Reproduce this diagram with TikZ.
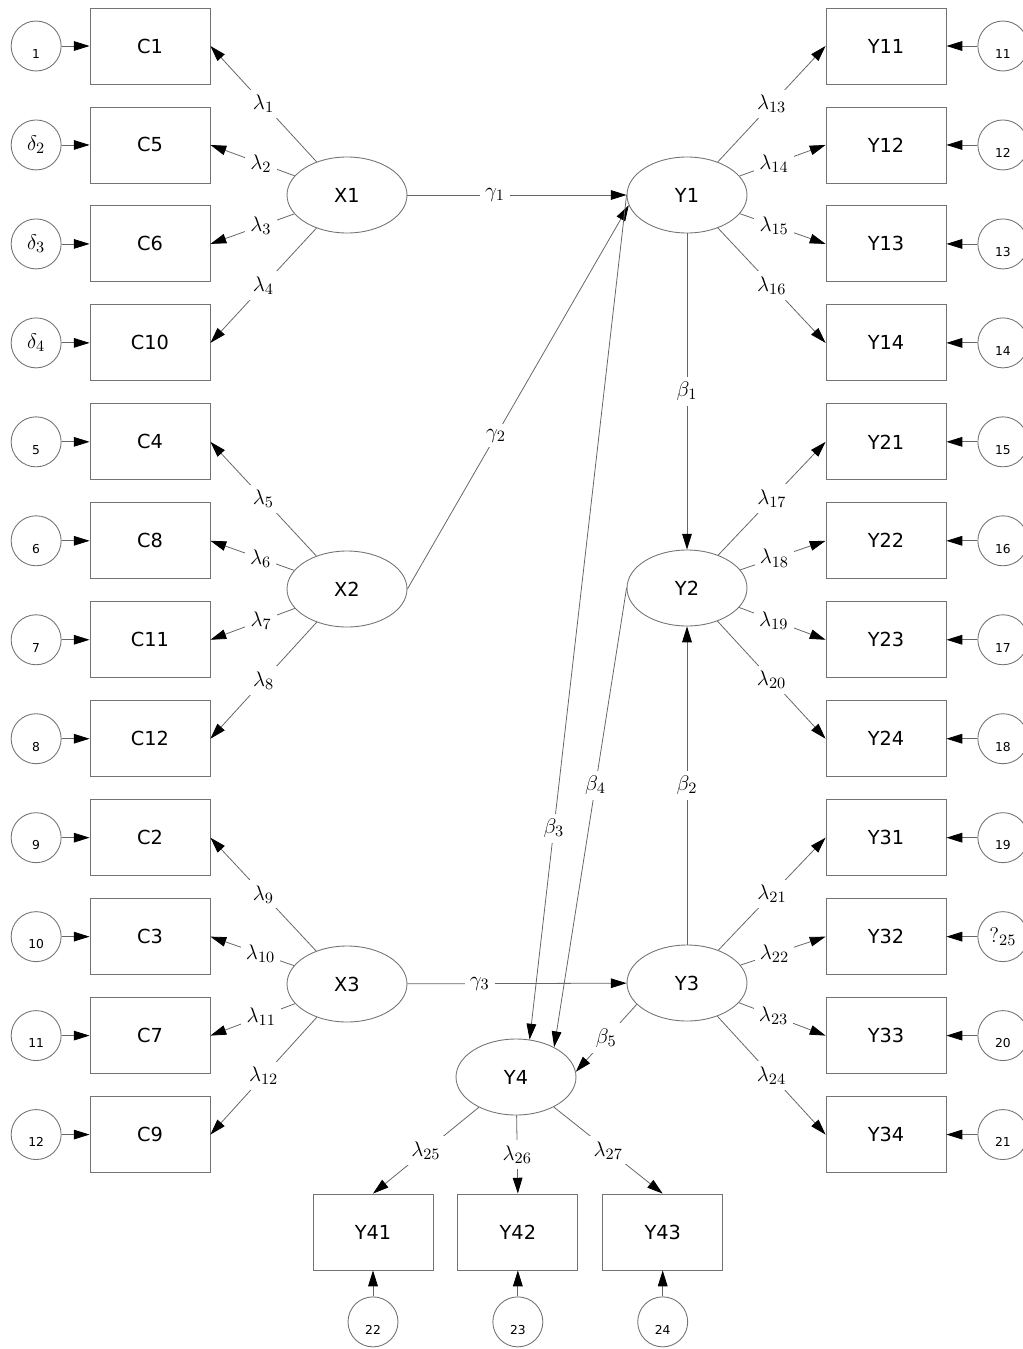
\documentclass[tikz,border=0pt]{standalone}
\usepackage{fontspec}
\setsansfont{DejaVu Sans}
\usetikzlibrary{shapes.geometric, arrows.meta, positioning}
\tikzset{
  obs/.style={rectangle, draw=black!55, line width=0.5pt,
              minimum width=2.4cm, minimum height=1.52cm, inner sep=0pt,
              font=\sffamily\fontsize{11}{13}\selectfont},
  latent/.style={ellipse, draw=black!55, line width=0.5pt,
                 minimum width=2.4cm, minimum height=1.52cm, inner sep=0pt,
                 font=\sffamily\fontsize{11}{13}\selectfont},
  err/.style={circle, draw=black!55, line width=0.5pt, minimum size=1cm,
              inner sep=0pt, text height=14pt, text depth=0pt,
              font=\sffamily\fontsize{7}{8}\selectfont},
  errd/.style={circle, draw=black!55, line width=0.5pt, minimum size=1cm,
               inner sep=0pt, font=\fontsize{13}{15}\selectfont},
  arr/.style={draw=black!60, line width=0.45pt,
              -{Triangle[length=9pt,width=5.5pt,color=black]}},
  lab/.style={fill=white, inner sep=3pt, font=\fontsize{13}{15}\selectfont},
}

\begin{document}
\begin{tikzpicture}[x=0.02cm, y=-0.02cm]
  \useasboundingbox (0,0) rectangle (1022,1349);

  % exogenous indicators
  \node[obs] (c1) at (150,46) {C1};
  \node[obs, below=0.442cm of c1] (c5) {C5};
  \node[obs, below=0.442cm of c5] (c6) {C6};
  \node[obs, below=0.442cm of c6] (c10) {C10};
  \node[obs, below=0.442cm of c10] (c4) {C4};
  \node[obs, below=0.442cm of c4] (c8) {C8};
  \node[obs, below=0.442cm of c8] (c11) {C11};
  \node[obs, below=0.442cm of c11] (c12) {C12};
  \node[obs, below=0.442cm of c12] (c2) {C2};
  \node[obs, below=0.442cm of c2] (c3) {C3};
  \node[obs, below=0.442cm of c3] (c7) {C7};
  \node[obs, below=0.442cm of c7] (c9) {C9};

  \node[err, left=0.56cm of c1] (d1) {1};
  \node[errd, left=0.56cm of c5] (d2) {$\delta_2$};
  \node[errd, left=0.56cm of c6] (d3) {$\delta_3$};
  \node[errd, left=0.56cm of c10] (d4) {$\delta_4$};
  \node[err, left=0.56cm of c4] (d5) {5};
  \node[err, left=0.56cm of c8] (d6) {6};
  \node[err, left=0.56cm of c11] (d7) {7};
  \node[err, left=0.56cm of c12] (d8) {8};
  \node[err, left=0.56cm of c2] (d9) {9};
  \node[err, left=0.56cm of c3] (d10) {10};
  \node[err, left=0.56cm of c7] (d11) {11};
  \node[err, left=0.56cm of c9] (d12) {12};

  % endogenous indicators
  \node[obs] (y11) at (886,46) {Y11};
  \node[obs, below=0.442cm of y11] (y12) {Y12};
  \node[obs, below=0.442cm of y12] (y13) {Y13};
  \node[obs, below=0.442cm of y13] (y14) {Y14};
  \node[obs, below=0.442cm of y14] (y21) {Y21};
  \node[obs, below=0.442cm of y21] (y22) {Y22};
  \node[obs, below=0.442cm of y22] (y23) {Y23};
  \node[obs, below=0.442cm of y23] (y24) {Y24};
  \node[obs, below=0.442cm of y24] (y31) {Y31};
  \node[obs, below=0.442cm of y31] (y32) {Y32};
  \node[obs, below=0.442cm of y32] (y33) {Y33};
  \node[obs, below=0.442cm of y33] (y34) {Y34};

  \node[err, right=0.62cm of y11] (e11) {11};
  \node[err, right=0.62cm of y12] (e12) {12};
  \node[err, right=0.62cm of y13] (e13) {13};
  \node[err, right=0.62cm of y14] (e14) {14};
  \node[err, right=0.62cm of y21] (e21) {15};
  \node[err, right=0.62cm of y22] (e22) {16};
  \node[err, right=0.62cm of y23] (e23) {17};
  \node[err, right=0.62cm of y24] (e24) {18};
  \node[err, right=0.62cm of y31] (e31) {19};
  \node[errd, right=0.62cm of y32] (e32) {$?_{25}$};
  \node[err, right=0.62cm of y33] (e33) {20};
  \node[err, right=0.62cm of y34] (e34) {21};

  \node[obs] (y41) at (373,1232) {Y41};
  \node[obs, right=0.48cm of y41] (y42) {Y42};
  \node[obs, right=0.48cm of y42] (y43) {Y43};

  \node[err, below=0.52cm of y41] (e41) {22};
  \node[err, below=0.52cm of y42] (e42) {23};
  \node[err, below=0.52cm of y43] (e43) {24};

  % latent variables
  \node[latent] (X1) at (347,195) {X1};
  \node[latent] (X2) at (347,589) {X2};
  \node[latent] (X3) at (347,984) {X3};
  \node[latent] (Y1) at (687,195) {Y1};
  \node[latent] (Y2) at (687,588) {Y2};
  \node[latent] (Y3) at (687,983) {Y3};
  \node[latent] (Y4) at (516,1077) {Y4};

  % measurement errors
  \draw[arr] (d1) -- (c1);
  \draw[arr] (d2) -- (c5);
  \draw[arr] (d3) -- (c6);
  \draw[arr] (d4) -- (c10);
  \draw[arr] (d5) -- (c4);
  \draw[arr] (d6) -- (c8);
  \draw[arr] (d7) -- (c11);
  \draw[arr] (d8) -- (c12);
  \draw[arr] (d9) -- (c2);
  \draw[arr] (d10) -- (c3);
  \draw[arr] (d11) -- (c7);
  \draw[arr] (d12) -- (c9);
  \draw[arr] (e11) -- (y11);
  \draw[arr] (e12) -- (y12);
  \draw[arr] (e13) -- (y13);
  \draw[arr] (e14) -- (y14);
  \draw[arr] (e21) -- (y21);
  \draw[arr] (e22) -- (y22);
  \draw[arr] (e23) -- (y23);
  \draw[arr] (e24) -- (y24);
  \draw[arr] (e31) -- (y31);
  \draw[arr] (e32) -- (y32);
  \draw[arr] (e33) -- (y33);
  \draw[arr] (e34) -- (y34);
  \draw[arr] (e41) -- (y41);
  \draw[arr] (e42) -- (y42);
  \draw[arr] (e43) -- (y43);

  % loadings
  \draw[arr] (X1) -- node[lab]{$\lambda_1$} (c1.east);
  \draw[arr] (X1) -- node[lab, pos=0.4]{$\lambda_2$} (c5.east);
  \draw[arr] (X1) -- node[lab, pos=0.4]{$\lambda_3$} (c6.east);
  \draw[arr] (X1) -- node[lab]{$\lambda_4$} (c10.east);
  \draw[arr] (X2) -- node[lab]{$\lambda_5$} (c4.east);
  \draw[arr] (X2) -- node[lab, pos=0.4]{$\lambda_6$} (c8.east);
  \draw[arr] (X2) -- node[lab, pos=0.4]{$\lambda_7$} (c11.east);
  \draw[arr] (X2) -- node[lab]{$\lambda_8$} (c12.east);
  \draw[arr] (X3) -- node[lab]{$\lambda_9$} (c2.east);
  \draw[arr] (X3) -- node[lab, pos=0.4]{$\lambda_{10}$} (c3.east);
  \draw[arr] (X3) -- node[lab, pos=0.4]{$\lambda_{11}$} (c7.east);
  \draw[arr] (X3) -- node[lab]{$\lambda_{12}$} (c9.east);

  \draw[arr] (Y1) -- node[lab]{$\lambda_{13}$} (y11.west);
  \draw[arr] (Y1) -- node[lab, pos=0.4]{$\lambda_{14}$} (y12.west);
  \draw[arr] (Y1) -- node[lab, pos=0.4]{$\lambda_{15}$} (y13.west);
  \draw[arr] (Y1) -- node[lab]{$\lambda_{16}$} (y14.west);
  \draw[arr] (Y2) -- node[lab]{$\lambda_{17}$} (y21.west);
  \draw[arr] (Y2) -- node[lab, pos=0.4]{$\lambda_{18}$} (y22.west);
  \draw[arr] (Y2) -- node[lab, pos=0.4]{$\lambda_{19}$} (y23.west);
  \draw[arr] (Y2) -- node[lab]{$\lambda_{20}$} (y24.west);
  \draw[arr] (Y3) -- node[lab]{$\lambda_{21}$} (y31.west);
  \draw[arr] (Y3) -- node[lab, pos=0.4]{$\lambda_{22}$} (y32.west);
  \draw[arr] (Y3) -- node[lab, pos=0.4]{$\lambda_{23}$} (y33.west);
  \draw[arr] (Y3) -- node[lab]{$\lambda_{24}$} (y34.west);
  \draw[arr] (Y4) -- node[lab]{$\lambda_{25}$} (y41.north);
  \draw[arr] (Y4) -- node[lab]{$\lambda_{26}$} (y42.north);
  \draw[arr] (Y4) -- node[lab]{$\lambda_{27}$} (y43.north);

  % structural paths
  \draw[arr] (X1) -- node[lab, pos=0.4]{$\gamma_1$} (Y1);
  \draw[arr] (X2.east) -- node[lab, pos=0.4]{$\gamma_2$} (Y1.190);
  \draw[arr] (X3) -- node[lab, pos=0.33]{$\gamma_3$} (Y3);
  \draw[arr] (Y1) -- node[lab]{$\beta_1$} (Y2);
  \draw[arr] (Y3) -- node[lab]{$\beta_2$} (Y2);
  \draw[arr] (Y1.west) -- node[lab, pos=0.75]{$\beta_3$} (Y4.70);
  \draw[arr] (Y2.west) -- node[lab, pos=0.43]{$\beta_4$} (Y4.38);
  \draw[arr] (Y3.203) -- node[lab]{$\beta_5$} (Y4.5);
\end{tikzpicture}
\end{document}
